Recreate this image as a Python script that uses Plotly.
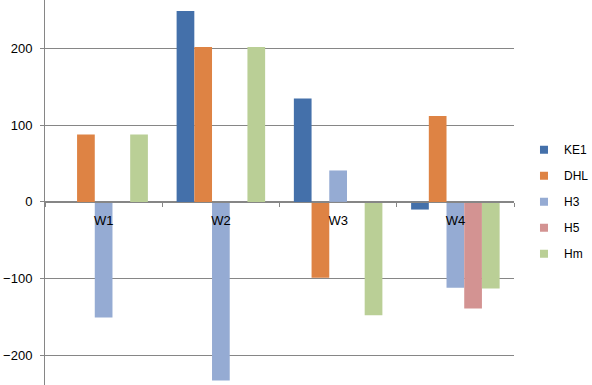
import plotly.graph_objects as go

categories = ["W1", "W2", "W3", "W4"]
series_names = ["KE1", "DHL", "H3", "H5", "Hm"]
ke1 = [0, 249, 135, -10]
dhl = [88, 202, -99, 112]
h3 = [-151, -233, 41, -112]
h5 = [0, 0, 0, -139]
hm = [88, 202, -148, -113]
colors = ["#4470AA", "#DE8344", "#95ABD3", "#D39392", "#BACF96"]
y_ticks = [-200, -100, 0, 100, 200]

values = [ke1, dhl, h3, h5, hm]

fig = go.Figure()
for name, vals, col in zip(series_names, values, colors):
    fig.add_trace(go.Bar(x=categories, y=vals, name=name, marker_color=col,
                         marker_line_width=0, showlegend=False))
for name, col in zip(series_names, colors):
    fig.add_trace(go.Scatter(x=[None], y=[None], mode="markers", name=name,
                             legendgroup=name,
                             marker=dict(symbol="square", size=8, color=col)))

fig.update_layout(
    width=592, height=385,
    margin=dict(l=45, r=78, t=0, b=0, autoexpand=False),
    paper_bgcolor="white", plot_bgcolor="white",
    barmode="group", bargap=0.245, bargroupgap=0,
    font=dict(family="Liberation Sans, Arial, sans-serif", size=13, color="#000000"),
    legend=dict(x=1.0213, y=0.476, xanchor="left", yanchor="middle",
                itemwidth=30, tracegroupgap=7, traceorder="grouped",
                font=dict(size=12)),
    showlegend=True,
)
fig.update_yaxes(range=[-239, 263.5], tickvals=y_ticks, showgrid=True,
                 gridcolor="#868686", gridwidth=1, zeroline=False,
                 showline=True, linecolor="#868686", linewidth=1,
                 ticks="outside", ticklen=4, tickcolor="#868686",
                 ticklabelstandoff=5)
fig.update_xaxes(type="category", anchor="free", position=1 - 202.3 / 385,
                 showline=True, linecolor="#868686", linewidth=1,
                 ticks="outside", ticklen=4, tickcolor="#868686",
                 tickson="boundaries", showgrid=False, ticklabelstandoff=6)

fig.write_html("out.html", config={"displayModeBar": False},
               post_script="document.body.style.margin='0';document.body.style.overflow='hidden';")
